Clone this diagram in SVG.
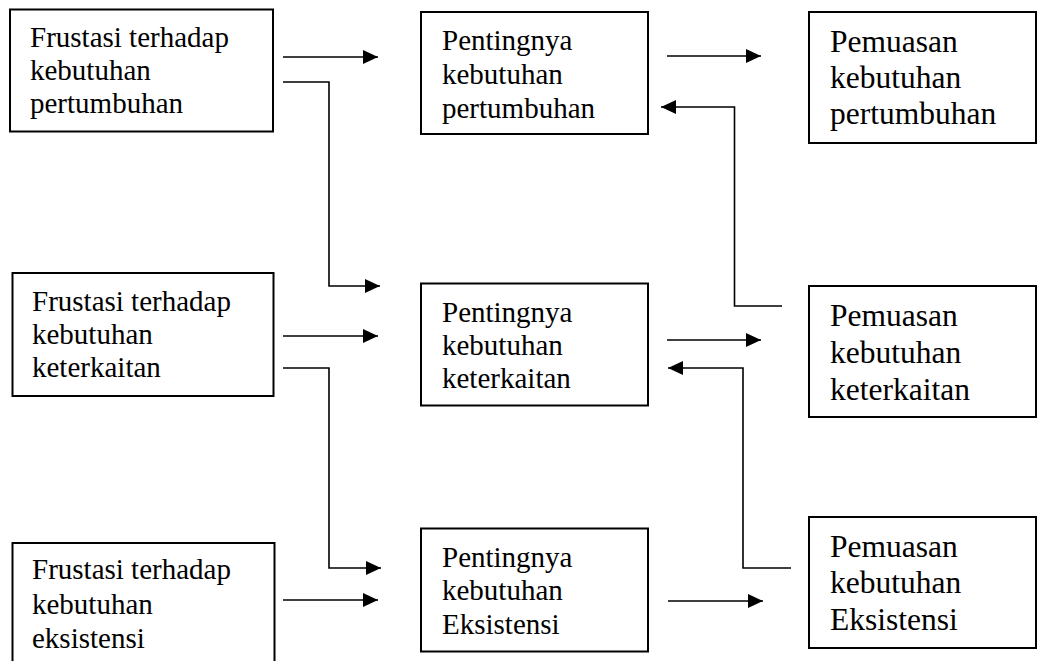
<svg xmlns="http://www.w3.org/2000/svg" width="1038" height="661" viewBox="0 0 1038 661">
<style>
.box{fill:#fff;stroke:#000;stroke-width:2}
.t{font-family:"Liberation Serif","Times New Roman","DejaVu Serif",serif;font-size:29px;fill:#000}
.tr{font-family:"Liberation Serif","Times New Roman","DejaVu Serif",serif;font-size:31.5px;fill:#000}
.ln{fill:none;stroke:#000;stroke-width:1.6}
.ar{marker-end:url(#ah)}
</style>
<defs>
<marker id="ah" viewBox="0 0 15 14" refX="15" refY="7" markerWidth="15" markerHeight="14" markerUnits="userSpaceOnUse" orient="auto">
<path d="M0,0 L15,7 L0,14 z" fill="#000"/>
</marker>
</defs>
<rect width="1038" height="661" fill="#fff"/>
<g id="frustasi-pertumbuhan">
<rect class="box" x="10" y="9.5" width="263" height="122"/>
<text class="t" x="30" y="47">Frustasi terhadap</text>
<text class="t" x="30" y="80">kebutuhan</text>
<text class="t" x="30" y="113">pertumbuhan</text>
</g>
<g id="penting-pertumbuhan">
<rect class="box" x="421" y="12" width="227" height="122"/>
<text class="t" x="442" y="50">Pentingnya</text>
<text class="t" x="442" y="84">kebutuhan</text>
<text class="t" x="442" y="118">pertumbuhan</text>
</g>
<g id="pemuasan-pertumbuhan">
<rect class="box" x="809" y="12" width="227" height="131"/>
<text class="tr" x="830" y="52">Pemuasan</text>
<text class="tr" x="830" y="88">kebutuhan</text>
<text class="tr" x="830" y="124">pertumbuhan</text>
</g>
<g id="frustasi-keterkaitan">
<rect class="box" x="12.5" y="273" width="261" height="123"/>
<text class="t" x="32" y="311">Frustasi terhadap</text>
<text class="t" x="32" y="344">kebutuhan</text>
<text class="t" x="32" y="377">keterkaitan</text>
</g>
<g id="penting-keterkaitan">
<rect class="box" x="421" y="283.5" width="227" height="122"/>
<text class="t" x="442" y="322">Pentingnya</text>
<text class="t" x="442" y="355">kebutuhan</text>
<text class="t" x="442" y="388">keterkaitan</text>
</g>
<g id="pemuasan-keterkaitan">
<rect class="box" x="809" y="286" width="227" height="131"/>
<text class="tr" x="830" y="326">Pemuasan</text>
<text class="tr" x="830" y="363">kebutuhan</text>
<text class="tr" x="830" y="400">keterkaitan</text>
</g>
<g id="frustasi-eksistensi">
<rect class="box" x="12.5" y="543" width="262" height="130"/>
<text class="t" x="32" y="579">Frustasi terhadap</text>
<text class="t" x="32" y="614">kebutuhan</text>
<text class="t" x="32" y="648">eksistensi</text>
</g>
<g id="penting-eksistensi">
<rect class="box" x="421" y="528.5" width="227" height="123"/>
<text class="t" x="442" y="567">Pentingnya</text>
<text class="t" x="442" y="600">kebutuhan</text>
<text class="t" x="442" y="634">Eksistensi</text>
</g>
<g id="pemuasan-eksistensi">
<rect class="box" x="809" y="517" width="227" height="131"/>
<text class="tr" x="830" y="557">Pemuasan</text>
<text class="tr" x="830" y="593">kebutuhan</text>
<text class="tr" x="830" y="630">Eksistensi</text>
</g>
<g id="connectors">
<path class="ln ar" d="M283,57 H378"/>
<path class="ln ar" d="M283,82 H329 V286 H380"/>
<path class="ln ar" d="M667,56 H761"/>
<path class="ln ar" d="M782,306 H734.5 V107 H661"/>
<path class="ln ar" d="M283,336 H378"/>
<path class="ln ar" d="M283,368 H329 V568 H381"/>
<path class="ln ar" d="M667,340 H761"/>
<path class="ln ar" d="M791,568 H743 V368 H668"/>
<path class="ln ar" d="M283,600 H378"/>
<path class="ln ar" d="M668,601 H763"/>
</g>
</svg>
